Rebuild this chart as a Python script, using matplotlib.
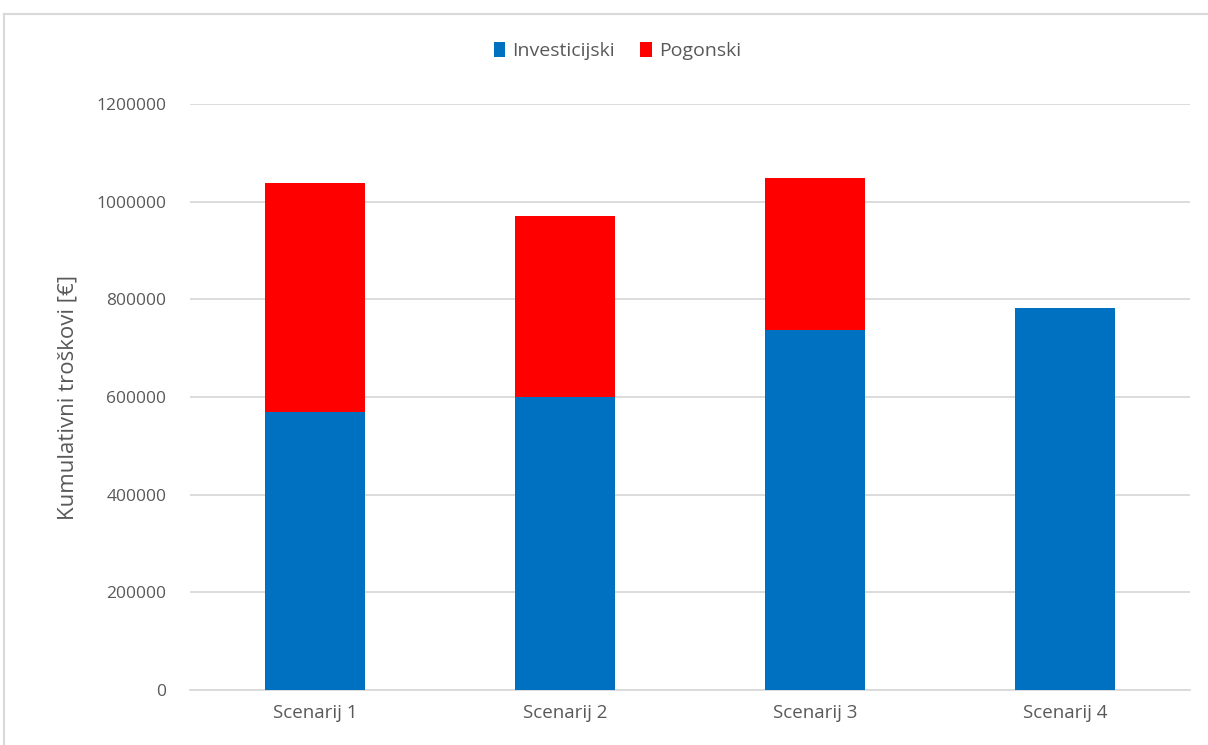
import matplotlib
matplotlib.use("Agg")
import matplotlib.pyplot as plt
from matplotlib.lines import Line2D
import numpy as np

categories = ["Scenarij 1", "Scenarij 2", "Scenarij 3", "Scenarij 4"]
investicijski = [570000, 600000, 737000, 782000]
pogonski = [469000, 371000, 311000, 0]
y_ticks = [0, 200000, 400000, 600000, 800000, 1000000, 1200000]

plt.rcParams['font.family'] = ['Open Sans', 'DejaVu Sans']
txt = '#595959'
grid = '#d9d9d9'

fig = plt.figure(figsize=(12.08, 7.45), dpi=100)
ax = fig.add_axes([190/1208, 55/745, 1000/1208, 586/745])

x = np.arange(len(categories))
b1 = ax.bar(x, investicijski, width=0.4, color='#0070c0', zorder=3, label='Investicijski')
b2 = ax.bar(x, pogonski, width=0.4, bottom=investicijski, color='#ff0000', zorder=3, label='Pogonski')

ax.set_xlim(-0.5, 3.5)
ax.set_ylim(0, 1200000)
ax.set_yticks(y_ticks)
ax.set_yticklabels([str(v) for v in y_ticks])
ax.set_xticks(x)
ax.set_xticklabels(categories)
ax.tick_params(axis='y', length=0, labelsize=12.5, colors=txt, pad=17)
ax.tick_params(axis='x', length=0, labelsize=13.5, colors=txt, pad=10)
ax.yaxis.grid(True, color=grid, linewidth=1.3, zorder=0)
for s in ['top', 'right', 'left']:
    ax.spines[s].set_visible(False)
ax.spines['bottom'].set_color(grid)
ax.spines['bottom'].set_linewidth(1.3)

ax.set_ylabel('Kumulativni troškovi [€]', fontsize=16, color=txt, labelpad=13)

leg = fig.legend(handles=[b1, b2], labels=['Investicijski', 'Pogonski'],
                 loc='center', bbox_to_anchor=(0.511, 1 - 51/745), ncol=2, frameon=False,
                 fontsize=14, handlelength=0.6, handleheight=0.8, handletextpad=0.35,
                 columnspacing=1.3)
for t in leg.get_texts():
    t.set_color(txt)

# chart frame
fig.add_artist(Line2D([4/1208, 4/1208], [0, 1 - 14/745], color=grid, linewidth=1.5, transform=fig.transFigure))
fig.add_artist(Line2D([4/1208, 1], [1 - 14/745, 1 - 14/745], color=grid, linewidth=1.5, transform=fig.transFigure))

fig.savefig('out.png', dpi=100)
